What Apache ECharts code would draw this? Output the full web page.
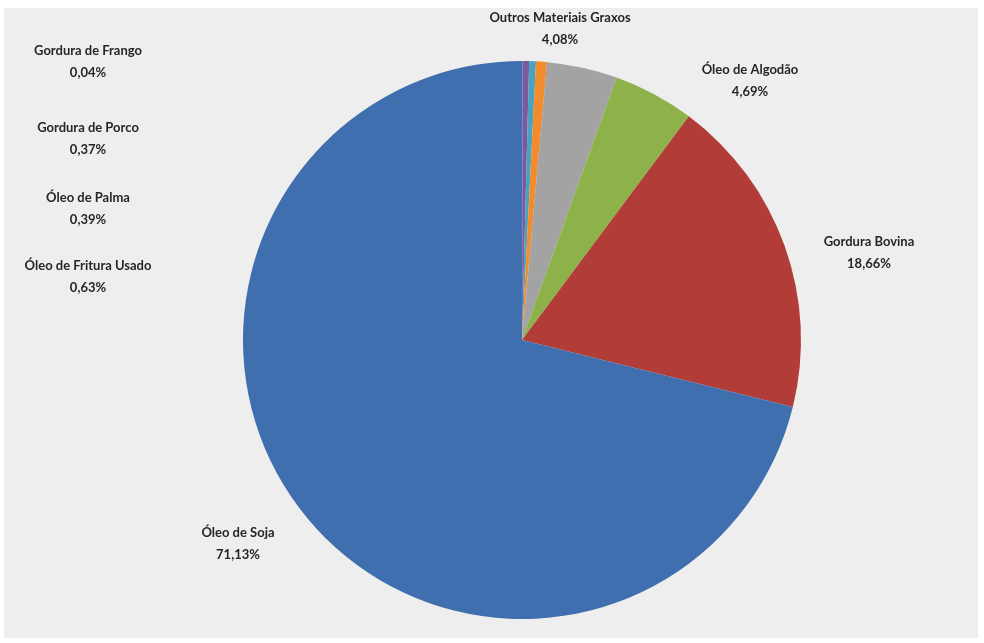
<!DOCTYPE html>
<html>
<head>
<meta charset="utf-8">
<script src="https://cdn.jsdelivr.net/npm/echarts@6/dist/echarts.min.js"></script>
<style>
  html, body { margin: 0; padding: 0; background: #fff; }
  #chart-container { width: 984px; height: 643px; }
</style>
</head>
<body>
<div id="chart-container"></div>
<script>
var dom = document.getElementById("chart-container");
var myChart = echarts.init(dom, null, { renderer: "canvas" });

// slices, clockwise from 12 o'clock
var names = [
  "Gordura de Frango",
  "Gordura de Porco",
  "Óleo de Palma",
  "Óleo de Fritura Usado",
  "Outros Materiais Graxos",
  "Óleo de Algodão",
  "Gordura Bovina",
  "Óleo de Soja"
];
var values = [0.04, 0.37, 0.39, 0.63, 4.08, 4.69, 18.66, 71.13];
var labels = ["0,04%", "0,37%", "0,39%", "0,63%", "4,08%", "4,69%", "18,66%", "71,13%"];
var colors = ["#4a7ebb", "#7a5a9c", "#4aa3be", "#f28b2c", "#a3a3a3", "#8db249", "#b23c38", "#3f6fae"];

// where the labels sit (like the hand placed excel labels)
var labelPos = [
  [88, 62], [88, 139], [88, 209], [88, 277],
  [560, 29], [750, 81], [869, 253], [238, 544]
];

var data = names.map(function (n, i) {
  return { name: n, value: values[i], itemStyle: { color: colors[i] } };
});

var option = {
  backgroundColor: "#ffffff",
  animation: false,
  graphic: [
    {
      type: "rect",
      z: -10,
      shape: { x: 4, y: 8, width: 974, height: 630 },
      style: { fill: "#eeeeee" }
    }
  ],
  series: [
    {
      type: "pie",
      center: [522, 340],
      radius: 279,
      startAngle: 90,
      clockwise: true,
      minAngle: 0,
      avoidLabelOverlap: false,
      itemStyle: { borderWidth: 0 },
      label: {
        show: true,
        color: "#262626",
        fontFamily: "Lato",
        fontWeight: "bold",
        fontSize: 13,
        lineHeight: 22,
        align: "center",
        formatter: function (p) {
          return p.name + "\n" + labels[p.dataIndex];
        }
      },
      labelLine: { show: false },
      labelLayout: function (params) {
        var pos = labelPos[params.dataIndex];
        return {
          x: pos[0],
          y: pos[1],
          align: "center",
          verticalAlign: "middle",
          hideOverlap: false
        };
      },
      emphasis: { disabled: true },
      data: data
    }
  ]
};

myChart.setOption(option);

window.addEventListener("resize", function () {
  myChart.resize();
});
</script>
</body>
</html>
